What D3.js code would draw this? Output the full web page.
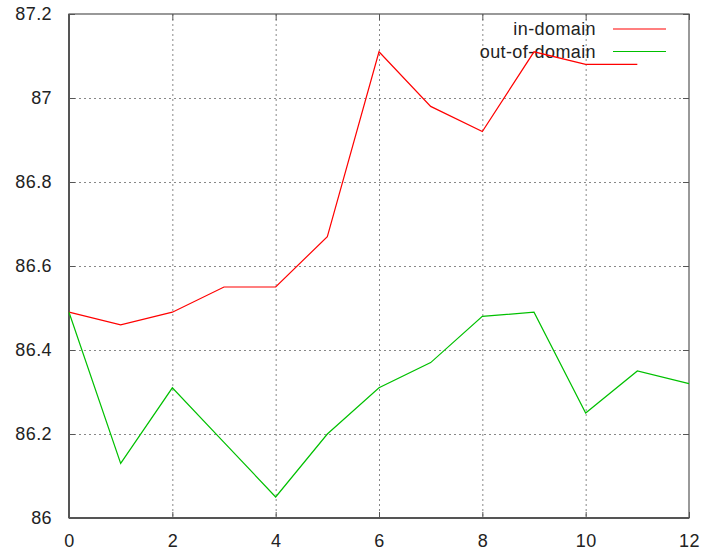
<!DOCTYPE html>
<html>
<head>
<meta charset="utf-8">
<script src="https://cdn.jsdelivr.net/npm/d3@7"></script>
<style>
  html, body { margin: 0; padding: 0; background: #fff; }
  svg { display: block; }
  text { font-family: "Liberation Sans", Arial, sans-serif; }
</style>
</head>
<body>
<svg id="chart" width="703" height="555"></svg>
<script>
// Epochs on the x axis
const xs = [0, 1, 2, 3, 4, 5, 6, 7, 8, 9, 10, 11, 12];
// Scores per epoch
const inDomain  = [86.49, 86.46, 86.49, 86.55, 86.55, 86.67, 87.11, 86.98, 86.92, 87.11, 87.08, 87.08];
const outDomain = [86.49, 86.13, 86.31, 86.18, 86.05, 86.20, 86.31, 86.37, 86.48, 86.49, 86.25, 86.35, 86.32];
// Tick values
const xTicks = [0, 2, 4, 6, 8, 10, 12];
const yTicks = [86, 86.2, 86.4, 86.6, 86.8, 87, 87.2];
const seriesNames = ["in-domain", "out-of-domain"];
const seriesColors = ["#ff0000", "#00c000"];

const svg = d3.select("#chart");
const plotLeft = 69, plotRight = 689, plotTop = 14, plotBottom = 518;

const x = d3.scaleLinear().domain([0, 12]).range([plotLeft, plotRight]);
const y = d3.scaleLinear().domain([86, 87.2]).range([plotBottom, plotTop]);

// Grid lines
const grid = svg.append("g").attr("stroke", "#888").attr("stroke-width", 1).attr("stroke-dasharray", "2,3");
xTicks.slice(1, -1).forEach(t => {
  grid.append("line").attr("x1", x(t) + 0.5).attr("x2", x(t) + 0.5).attr("y1", plotTop).attr("y2", plotBottom);
});
yTicks.slice(1, -1).forEach(t => {
  grid.append("line").attr("x1", plotLeft).attr("x2", plotRight)
    .attr("y1", Math.round(y(t)) + 0.5).attr("y2", Math.round(y(t)) + 0.5);
});

// Axes with mirrored inward ticks
const fmt = d => String(+d.toFixed(1));
const axB = svg.append("g").attr("transform", `translate(0,${plotBottom})`)
  .call(d3.axisBottom(x).tickValues(xTicks).tickFormat(fmt).tickSizeInner(-6).tickSizeOuter(0).tickPadding(16));
const axL = svg.append("g").attr("transform", `translate(${plotLeft},0)`)
  .call(d3.axisLeft(y).tickValues(yTicks).tickFormat(fmt).tickSizeInner(-6).tickSizeOuter(0).tickPadding(17));
const axT = svg.append("g").attr("transform", `translate(0,${plotTop})`)
  .call(d3.axisTop(x).tickValues(xTicks).tickFormat("").tickSizeInner(-6).tickSizeOuter(0));
const axR = svg.append("g").attr("transform", `translate(${plotRight},0)`)
  .call(d3.axisRight(y).tickValues(yTicks).tickFormat("").tickSizeInner(-6).tickSizeOuter(0));
[axB, axL, axT, axR].forEach(g => {
  g.select(".domain").remove();
  g.selectAll("line").attr("stroke", "#555");
  g.selectAll("text").attr("font-size", 18).attr("fill", "#222").attr("letter-spacing", "0.4px")
    .attr("font-family", "'Liberation Sans', Arial, sans-serif");
});

// Plot frame
svg.append("rect").attr("x", plotLeft).attr("y", plotTop)
  .attr("width", plotRight - plotLeft).attr("height", plotBottom - plotTop)
  .attr("fill", "none").attr("stroke", "#555").attr("stroke-width", 1.2);
svg.append("line").attr("x1", plotLeft).attr("x2", plotLeft).attr("y1", plotTop).attr("y2", plotBottom)
  .attr("stroke", "#555").attr("stroke-width", 2);
svg.append("line").attr("x1", plotLeft).attr("x2", plotRight).attr("y1", plotBottom).attr("y2", plotBottom)
  .attr("stroke", "#555").attr("stroke-width", 2);

// Legend
const legend = svg.append("g");
seriesNames.forEach((name, i) => {
  const ly = 29 + i * 22.5;
  legend.append("text").attr("x", 596).attr("y", ly).attr("dy", "0.35em")
    .attr("text-anchor", "end").attr("font-size", 18).attr("letter-spacing", "0.4px")
    .attr("fill", "#222").text(name);
  legend.append("line").attr("x1", 613).attr("x2", 666).attr("y1", ly).attr("y2", ly)
    .attr("stroke", seriesColors[i]).attr("stroke-width", 1.2);
});

// Series lines
const line = d3.line().x((d, i) => x(xs[i])).y(d => y(d));
[inDomain, outDomain].forEach((vals, i) => {
  svg.append("path").datum(vals).attr("d", line)
    .attr("fill", "none").attr("stroke", seriesColors[i]).attr("stroke-width", 1.2);
});
</script>
</body>
</html>
